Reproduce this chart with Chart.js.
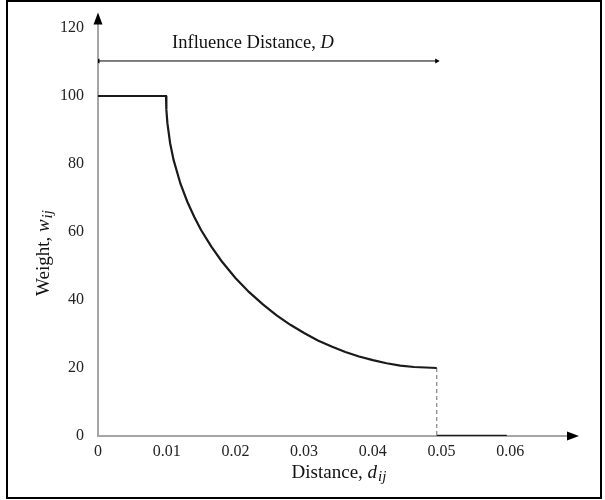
<!DOCTYPE html>
<html>
<head>
<meta charset="utf-8">
<script src="https://cdn.jsdelivr.net/npm/chart.js@4.4.0/dist/chart.umd.min.js"></script>
<style>
  html,body{margin:0;padding:0;background:#fff;}
  #wrap{position:relative;width:605px;height:500px;}
  #frame{position:absolute;left:6px;top:0px;width:592px;height:495px;border:2px solid #000;box-sizing:content-box;pointer-events:none;}
  canvas{position:absolute;left:0;top:0;}
</style>
</head>
<body>
<div id="wrap">
<canvas id="c" width="605" height="500"></canvas>
<div id="frame"></div>
</div>
<script>
// ---- data ----
const xTicks = [0, 0.01, 0.02, 0.03, 0.04, 0.05, 0.06];
const xTickLabels = ["0", "0.01", "0.02", "0.03", "0.04", "0.05", "0.06"];
const yTicks = [0, 20, 40, 60, 80, 100, 120];
const yTickLabels = ["0", "20", "40", "60", "80", "100", "120"];

// weight curve: plateau then decaying curve up to the influence distance
const curveD = [0, 0.0099, 0.00995, 0.0101, 0.0105, 0.011, 0.012, 0.013, 0.014, 0.015, 0.0165, 0.018, 0.020, 0.022, 0.024, 0.026, 0.028, 0.030, 0.032, 0.034, 0.036, 0.038, 0.040, 0.042, 0.044, 0.046, 0.0493];
const curveW = [100, 100, 96, 92, 86.1, 81.2, 74.2, 68.9, 64.5, 60.6, 55.7, 51.4, 46.5, 42.3, 38.7, 35.5, 32.7, 30.3, 28.1, 26.3, 24.7, 23.4, 22.3, 21.4, 20.7, 20.3, 20];

// vertical drop (dashed) at the influence distance
const dropD = [0.0493, 0.0493];
const dropW = [20, 0];

// zero weight beyond the influence distance
const zeroD = [0.0493, 0.0595];
const zeroW = [0, 0];

// influence distance arrow
const infD = [0, 0.0493];
const infW = [110.3, 110.3];

const xMax = 0.0687;
const yMax = 122.5;

const pts = (xs, ys) => xs.map((v, i) => ({x: v, y: ys[i]}));

const SERIF = '"Liberation Serif", "DejaVu Serif", serif';

function drawRich(ctx, parts, cx, cy) {
  let total = 0;
  parts.forEach(p => { ctx.font = p.font; p.w = ctx.measureText(p.t).width + (p.gap || 0); total += p.w; });
  let x = cx - total / 2;
  parts.forEach(p => {
    ctx.font = p.font;
    ctx.fillText(p.t, x + (p.gap || 0), cy + (p.dy || 0));
    x += p.w;
  });
}

const deco = {
  id: 'deco',
  afterDraw(chart) {
    const {ctx, chartArea: a, scales: {x, y}} = chart;
    ctx.save();
    ctx.fillStyle = '#000';
    const x0 = x.getPixelForValue(0);
    const y0 = y.getPixelForValue(0);
    // y-axis arrow head
    ctx.beginPath();
    ctx.moveTo(x0, a.top - 7);
    ctx.lineTo(x0 - 4.5, a.top + 5);
    ctx.lineTo(x0 + 4.5, a.top + 5);
    ctx.closePath();
    ctx.fill();
    // x-axis arrow head
    ctx.beginPath();
    ctx.moveTo(a.right + 9, y0);
    ctx.lineTo(a.right - 3, y0 - 4.5);
    ctx.lineTo(a.right - 3, y0 + 4.5);
    ctx.closePath();
    ctx.fill();

    ctx.fillStyle = '#111';
    ctx.textBaseline = 'middle';
    ctx.textAlign = 'left';
    // x title
    drawRich(ctx, [
      {t: 'Distance, ', font: '19px ' + SERIF},
      {t: 'd', font: 'italic 19px ' + SERIF},
      {t: 'ij', font: 'italic 15px ' + SERIF, dy: 4, gap: 1}
    ], 339, 473);
    // influence label
    drawRich(ctx, [
      {t: 'Influence Distance, ', font: '18.5px ' + SERIF},
      {t: 'D', font: 'italic 18.5px ' + SERIF}
    ], 253, 43);
    // y title (rotated)
    ctx.translate(44, 253);
    ctx.rotate(-Math.PI / 2);
    drawRich(ctx, [
      {t: 'Weight, ', font: '19px ' + SERIF},
      {t: 'w', font: 'italic 19px ' + SERIF},
      {t: 'ij', font: 'italic 15px ' + SERIF, dy: 4, gap: 1}
    ], 0, 0);
    ctx.restore();
  }
};

new Chart(document.getElementById('c'), {
  type: 'scatter',
  data: {
    datasets: [
      {data: pts(curveD, curveW), showLine: true, borderColor: '#1a1a1a', borderWidth: 2.2, pointRadius: 0, tension: 0, fill: false},
      {data: pts(dropD, dropW), showLine: true, borderColor: '#8c8c8c', borderWidth: 1.3, borderDash: [4, 3], pointRadius: 0, fill: false},
      {data: pts(zeroD, zeroW), showLine: true, borderColor: '#1a1a1a', borderWidth: 2.5, pointRadius: 0, fill: false},
      {data: pts(infD, infW), showLine: true, borderColor: '#000', borderWidth: 1, fill: false,
       pointStyle: 'triangle', pointRadius: 3, pointRotation: [-90, 90], pointBackgroundColor: '#000', pointBorderColor: '#000', pointBorderWidth: 0}
    ]
  },
  options: {
    responsive: false,
    animation: false,
    devicePixelRatio: 1,
    layout: {padding: {left: 0, right: 35, top: 19.5, bottom: 0}},
    plugins: {legend: {display: false}, tooltip: {enabled: false}},
    scales: {
      x: {
        type: 'linear', min: 0, max: xMax,
        afterBuildTicks: s => { s.ticks = xTicks.map(v => ({value: v})); },
        afterFit: s => { s.height = 64; },
        grid: {display: false},
        border: {display: true, color: '#a6a6a6', width: 2},
        ticks: {
          padding: -2, color: '#222', maxRotation: 0, autoSkip: false,
          font: {family: SERIF, size: 16},
          callback: (v, i) => xTickLabels[i]
        }
      },
      y: {
        type: 'linear', min: 0, max: yMax,
        afterBuildTicks: s => { s.ticks = yTicks.map(v => ({value: v})); },
        afterFit: s => { s.width = 98; },
        grid: {display: false},
        border: {display: true, color: '#a6a6a6', width: 2},
        ticks: {
          padding: 6, color: '#222', autoSkip: false,
          font: {family: SERIF, size: 16},
          callback: (v, i) => yTickLabels[i]
        }
      }
    }
  },
  plugins: [deco]
});
</script>
</body>
</html>
